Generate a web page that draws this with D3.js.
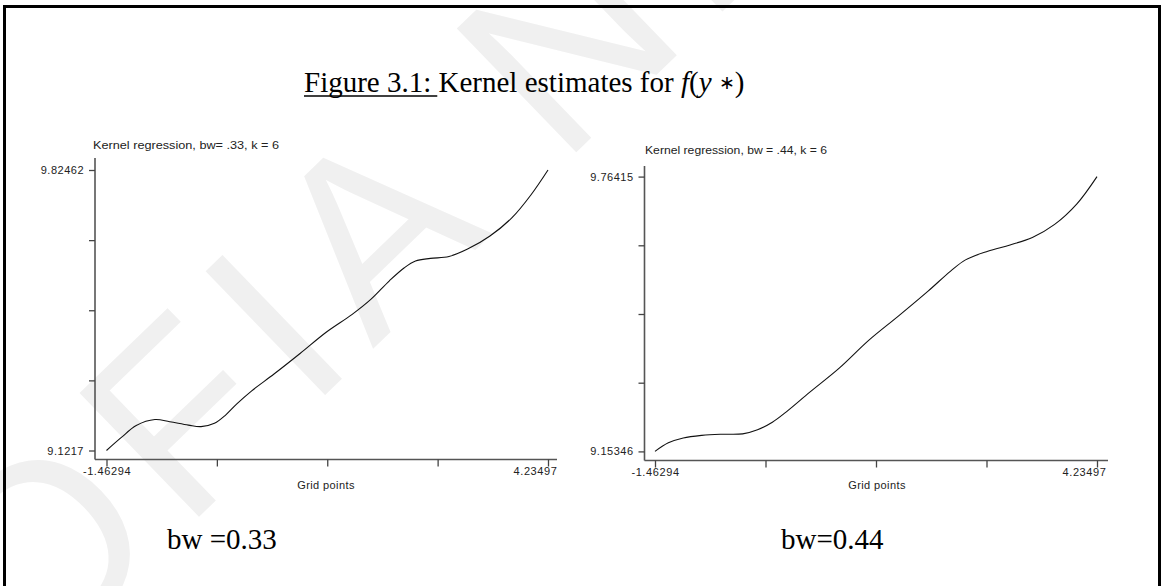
<!DOCTYPE html>
<html><head><meta charset="utf-8">
<script src="https://cdn.jsdelivr.net/npm/d3@7"></script>
<style>body{margin:0;background:#fff} svg{display:block}</style>
</head><body><svg id="c" width="1164" height="586"></svg>
<script>
// ---------- data ----------
const gridX33 = [-1.463,-1.271,-1.079,-0.838,-0.646,-0.406,-0.243,-0.070,0.074,0.219,0.411,0.699,1.035,1.372,1.708,1.948,2.188,2.381,2.525,2.717,2.957,3.197,3.486,3.774,4.014,4.235];
const kernel33 = [9.1217,9.1544,9.1843,9.1993,9.1937,9.1853,9.1815,9.1899,9.2105,9.2385,9.2713,9.3133,9.3647,9.4180,9.4629,9.5003,9.5470,9.5797,9.5966,9.6031,9.6078,9.6264,9.6592,9.7059,9.7620,9.82462];
const gridX44 = [-1.463,-1.291,-1.099,-0.860,-0.620,-0.333,-0.141,0.050,0.242,0.529,0.912,1.295,1.678,2.061,2.348,2.540,2.827,3.114,3.402,3.689,3.976,4.235];
const kernel44 = [9.15346,9.1725,9.1833,9.1891,9.1916,9.1925,9.2016,9.2182,9.2431,9.2846,9.3385,9.4007,9.4547,9.5102,9.5542,9.5791,9.5982,9.6123,9.6289,9.6579,9.7036,9.76415];
const xTickValues = [-1.46294,-0.038463,1.386015,2.810493,4.23497];
const xTickLabels = ["-1.46294","","","","4.23497"];
const yTicks33 = [9.1217,9.297430,9.473160,9.648890,9.82462];
const yTickLabels33 = ["9.1217","","","","9.82462"];
const yTicks44 = [9.15346,9.306133,9.458805,9.611478,9.76415];
const yTickLabels44 = ["9.15346","","","","9.76415"];
const panelTitles = ["Kernel regression, bw= .33, k = 6","Kernel regression, bw = .44, k = 6"];
const captions = ["bw =0.33","bw=0.44"];
const xAxisTitle = "Grid points";

// ---------- drawing ----------
const svg = d3.select("#c");
svg.append("rect").attr("width",1164).attr("height",586).attr("fill","#fff");

// faint watermark
svg.append("text")
  .attr("transform","translate(30,680) rotate(-44)")
  .attr("font-family","Liberation Sans, Arial, sans-serif")
  .attr("font-size",250).attr("letter-spacing",20)
  .attr("fill","#f0f0f0")
  .text("OFIA N. AN");

// frame
svg.append("path").attr("d","M4.5,586 V6.5 H1159.5 V586")
  .attr("fill","none").attr("stroke","#000").attr("stroke-width",3);

// title
const title = svg.append("text").attr("x",304).attr("y",92)
  .attr("font-family","Liberation Serif, Times New Roman, serif")
  .attr("font-size",29).attr("fill","#000").style("white-space","pre");
title.append("tspan").text("Figure 3.1: ");
title.append("tspan").text("Kernel estimates for ");
title.append("tspan").attr("font-style","italic").text("f");
title.append("tspan").text("(");
title.append("tspan").attr("font-style","italic").text("y");
title.append("tspan").text(" ");
title.append("tspan").attr("font-size",19).attr("dy",-3).text("\u2217");
title.append("tspan").attr("dy",3).text(")");
const ulen = title.node().getSubStringLength(0,11);
svg.append("line").attr("x1",304).attr("x2",304+ulen+6).attr("y1",96).attr("y2",96)
  .attr("stroke","#000").attr("stroke-width",1.5);

const panels = [
  {x:gridX33, y:kernel33, yTicks:yTicks33, yLabels:yTickLabels33, title:panelTitles[0], caption:captions[0],
   axisX:95, axisTop:158, axisY:459.5, axisRight:557, xr:[106.5,548], yr:[450.5,170],
   titleX:93, titleY:149, titleW:186, gridX:326, capX:167},
  {x:gridX44, y:kernel44, yTicks:yTicks44, yLabels:yTickLabels44, title:panelTitles[1], caption:captions[1],
   axisX:644.5, axisTop:166, axisY:460.5, axisRight:1108, xr:[655,1097], yr:[451.4,176.6],
   titleX:645, titleY:154, titleW:182, gridX:877, capX:781}
];

const sans = "Liberation Sans, Arial, sans-serif";
panels.forEach(p => {
  const xs = d3.scaleLinear().domain([xTickValues[0], xTickValues[4]]).range(p.xr);
  const ys = d3.scaleLinear().domain([p.yTicks[0], p.yTicks[4]]).range(p.yr);
  const g = svg.append("g");

  // axis lines
  g.append("line").attr("x1",p.axisX).attr("x2",p.axisX).attr("y1",p.axisTop).attr("y2",p.axisY)
    .attr("stroke","#555").attr("stroke-width",1.6);
  g.append("line").attr("x1",p.axisX).attr("x2",p.axisRight).attr("y1",p.axisY).attr("y2",p.axisY)
    .attr("stroke","#555").attr("stroke-width",1.6);

  // y axis
  const ya = g.append("g").attr("transform",`translate(${p.axisX},0)`)
    .call(d3.axisLeft(ys).tickValues(p.yTicks).tickSize(6).tickPadding(5)
      .tickFormat((d,i)=>p.yLabels[i]));
  ya.select(".domain").remove();
  ya.selectAll("line").attr("stroke","#444").attr("stroke-width",1.3);
  ya.selectAll("text").attr("font-family",sans).attr("font-size",11).attr("letter-spacing",0.5).attr("fill","#222");

  // x axis
  const xa = g.append("g").attr("transform",`translate(0,${p.axisY})`)
    .call(d3.axisBottom(xs).tickValues(xTickValues).tickSize(7).tickPadding(1)
      .tickFormat((d,i)=>xTickLabels[i]));
  xa.select(".domain").remove();
  xa.selectAll("line").attr("stroke","#444").attr("stroke-width",1.3);
  xa.selectAll("text").attr("font-family",sans).attr("font-size",11).attr("letter-spacing",0.6).attr("fill","#222")
    .attr("dx",(d,i)=> i===4 ? -13 : 0);

  // subtitle
  g.append("text").attr("x",p.titleX).attr("y",p.titleY)
    .attr("font-family",sans).attr("font-size",10).attr("fill","#222")
    .attr("textLength",p.titleW).attr("lengthAdjust","spacingAndGlyphs")
    .text(p.title);

  // x axis title
  g.append("text").attr("x",p.gridX).attr("y",489).attr("text-anchor","middle")
    .attr("font-family",sans).attr("font-size",11).attr("letter-spacing",0.4).attr("fill","#222")
    .text(xAxisTitle);

  // curve
  const line = d3.line().x((d,i)=>xs(p.x[i])).y((d,i)=>ys(d)).curve(d3.curveCatmullRom.alpha(0.5));
  g.append("path").datum(p.y).attr("d",line).attr("fill","none")
    .attr("stroke","#111").attr("stroke-width",1.1);

  // caption
  svg.append("text").attr("x",p.capX).attr("y",549)
    .attr("font-family","Liberation Serif, Times New Roman, serif")
    .attr("font-size",29).attr("fill","#000").text(p.caption);
});
</script></body></html>
